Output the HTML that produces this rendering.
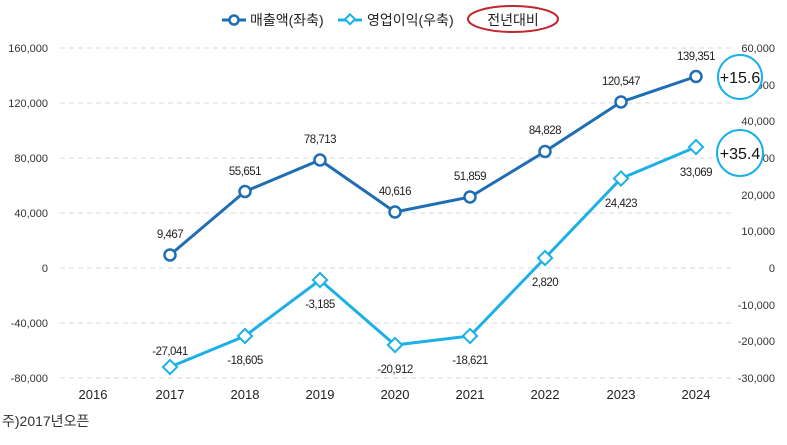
<!DOCTYPE html>
<html><head><meta charset="utf-8"><style>
body{margin:0;background:#fff}
text{font-family:"Liberation Sans","Noto Sans CJK KR",sans-serif}
</style></head><body>
<svg width="787" height="440" viewBox="0 0 787 440" xmlns="http://www.w3.org/2000/svg">
<g stroke="#d9d9d9" stroke-dasharray="5,4" stroke-width="1">
<line x1="60" x2="735" y1="48" y2="48"/><line x1="60" x2="735" y1="103" y2="103"/>
<line x1="60" x2="735" y1="158" y2="158"/><line x1="60" x2="735" y1="213" y2="213"/>
<line x1="60" x2="735" y1="268" y2="268"/><line x1="60" x2="735" y1="323" y2="323"/>
<line x1="60" x2="735" y1="378" y2="378"/>
</g>
<g font-size="11" fill="#333" text-anchor="end">
<text x="48" y="52">160,000</text><text x="48" y="107">120,000</text><text x="48" y="162">80,000</text>
<text x="48" y="217">40,000</text><text x="48" y="272">0</text><text x="48" y="327">-40,000</text><text x="48" y="382">-80,000</text>
</g>
<g font-size="11" fill="#333" text-anchor="end">
<text x="775" y="52">60,000</text><text x="775" y="89">50,000</text><text x="775" y="125">40,000</text>
<text x="775" y="162">30,000</text><text x="775" y="199">20,000</text><text x="775" y="235">10,000</text>
<text x="775" y="272">0</text><text x="775" y="309">-10,000</text><text x="775" y="345">-20,000</text><text x="775" y="382">-30,000</text>
</g>
<g font-size="13" fill="#222" text-anchor="middle">
<text x="93" y="399">2016</text><text x="170" y="399">2017</text><text x="245" y="399">2018</text>
<text x="320" y="399">2019</text><text x="395" y="399">2020</text><text x="470" y="399">2021</text>
<text x="545" y="399">2022</text><text x="621" y="399">2023</text><text x="696" y="399">2024</text>
</g>
<text x="2" y="426" font-size="14" fill="#333">주)2017년오픈</text>
<polyline fill="none" stroke="#1f6eb4" stroke-width="3" points="170,255 245,191.5 320,160 395,212 470,197 545,151.5 621,102 696,76.5"/>
<g fill="#fff" stroke="#1f6eb4" stroke-width="2.5">
<circle cx="170" cy="255" r="5.5"/><circle cx="245" cy="191.5" r="5.5"/><circle cx="320" cy="160" r="5.5"/>
<circle cx="395" cy="212" r="5.5"/><circle cx="470" cy="197" r="5.5"/><circle cx="545" cy="151.5" r="5.5"/>
<circle cx="621" cy="102" r="5.5"/><circle cx="696" cy="76.5" r="5.5"/>
</g>
<polyline fill="none" stroke="#1cb1e6" stroke-width="3" points="170,367 245,336 320,280 395,345 470,336 545,258 621,178.5 696,147"/>
<g fill="#fff" stroke="#1cb1e6" stroke-width="2">
<rect x="165" y="362" width="10" height="10" transform="rotate(45 170 367)"/>
<rect x="240" y="331" width="10" height="10" transform="rotate(45 245 336)"/>
<rect x="315" y="275" width="10" height="10" transform="rotate(45 320 280)"/>
<rect x="390" y="340" width="10" height="10" transform="rotate(45 395 345)"/>
<rect x="465" y="331" width="10" height="10" transform="rotate(45 470 336)"/>
<rect x="540" y="253" width="10" height="10" transform="rotate(45 545 258)"/>
<rect x="616" y="173.5" width="10" height="10" transform="rotate(45 621 178.5)"/>
<rect x="691" y="142" width="10" height="10" transform="rotate(45 696 147)"/>
</g>
<g font-size="11.5" fill="#222" text-anchor="middle" letter-spacing="-0.5">
<text x="170" y="238">9,467</text><text x="245" y="175">55,651</text><text x="320" y="143">78,713</text>
<text x="395" y="195">40,616</text><text x="470" y="180">51,859</text><text x="545" y="134">84,828</text>
<text x="621" y="85">120,547</text><text x="696" y="60">139,351</text>
<text x="170" y="355">-27,041</text><text x="245" y="364">-18,605</text><text x="320" y="308">-3,185</text>
<text x="395" y="373">-20,912</text><text x="470" y="364">-18,621</text><text x="545" y="286">2,820</text>
<text x="621" y="207">24,423</text><text x="696" y="176">33,069</text>
</g>
<g fill="#fff" stroke="#1cb1e6" stroke-width="2">
<circle cx="740" cy="77" r="22"/><circle cx="740" cy="153" r="23"/>
</g>
<g font-size="16" fill="#111" text-anchor="middle">
<text x="740" y="83">+15.6</text><text x="740" y="159">+35.4</text>
</g>
<line x1="222" x2="246" y1="20" y2="20" stroke="#1f6eb4" stroke-width="3"/>
<circle cx="234" cy="20" r="4.5" fill="#fff" stroke="#1f6eb4" stroke-width="2.5"/>
<text x="250" y="25" font-size="14" fill="#222">매출액(좌축)</text>
<line x1="338" x2="362" y1="20" y2="20" stroke="#1cb1e6" stroke-width="3"/>
<rect x="346" y="16" width="7" height="7" fill="#fff" stroke="#1cb1e6" stroke-width="2" transform="rotate(45 350 20)"/>
<text x="367" y="25" font-size="14" fill="#222">영업이익(우축)</text>
<ellipse cx="513" cy="19" rx="45" ry="13" fill="none" stroke="#c0272d" stroke-width="2"/>
<text x="513" y="25" font-size="14" fill="#222" text-anchor="middle">전년대비</text>
</svg>
</body></html>
